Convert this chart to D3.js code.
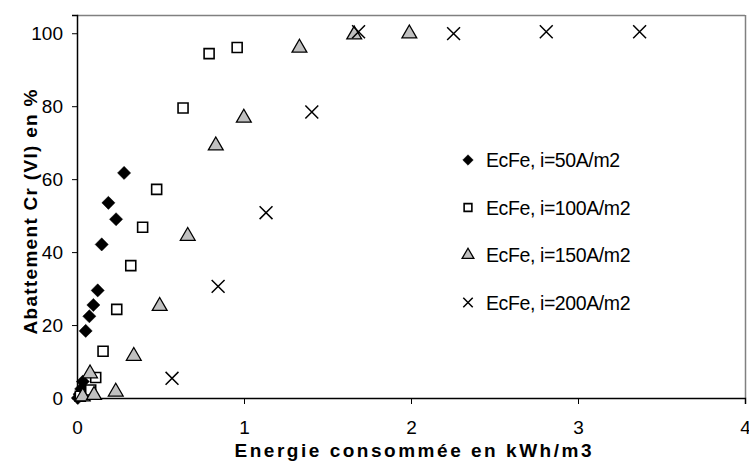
<!DOCTYPE html>
<html><head><meta charset="utf-8">
<script src="https://cdn.jsdelivr.net/npm/d3@7"></script>
<style>body{margin:0;background:#fff}svg{display:block}</style>
</head><body>
<script>
// Data (x: kWh/m3, y: % abattement)
const s50x = [0.005, 0.015, 0.025, 0.035, 0.052, 0.074, 0.098, 0.124, 0.148, 0.188, 0.234, 0.282];
const s50y = [0.0, 1.0, 2.5, 4.5, 18.4, 22.4, 25.5, 29.5, 42.1, 53.5, 49.0, 61.7];
const s100x = [0.02, 0.05, 0.082, 0.112, 0.156, 0.238, 0.322, 0.393, 0.477, 0.635, 0.791, 0.959];
const s100y = [0.5, 1.0, 2.2, 5.6, 12.8, 24.3, 36.3, 46.8, 57.2, 79.5, 94.4, 96.1];
const s150x = [0.034, 0.078, 0.102, 0.232, 0.340, 0.495, 0.663, 0.831, 0.999, 1.332, 1.66, 1.99];
const s150y = [0.0, 6.3, 0.4, 1.3, 11.1, 24.8, 44.0, 68.8, 76.4, 95.6, 99.2, 99.5];
const s200x = [0.569, 0.845, 1.132, 1.406, 1.686, 2.255, 2.810, 3.369];
const s200y = [5.4, 30.6, 50.8, 78.4, 100.4, 99.9, 100.4, 100.4];
const seriesNames = ["EcFe, i=50A/m2", "EcFe, i=100A/m2", "EcFe, i=150A/m2", "EcFe, i=200A/m2"];
const xTicks = [0, 1, 2, 3, 4];
const yTicks = [0, 20, 40, 60, 80, 100];
const xTitle = "Energie consommée en kWh/m3";
const yTitle = "Abattement Cr (VI) en %";

const W = 749, H = 463;
const m = {l: 77, r: 4, t: 15, b: 65};
const svg = d3.select("body").append("svg").attr("width", W).attr("height", H);
const x = d3.scaleLinear().domain([0, 4]).range([m.l, W - m.r]);
const y = d3.scaleLinear().domain([0, 105]).range([H - m.b, m.t]);
const font = "Liberation Sans, Arial, Helvetica, sans-serif";

// frame (top/right grey)
svg.append("line").attr("x1", m.l).attr("x2", W - m.r).attr("y1", m.t + 0.5).attr("y2", m.t + 0.5).attr("stroke", "#808080").attr("stroke-width", 1.5);
svg.append("line").attr("x1", W - m.r + 0.5).attr("x2", W - m.r + 0.5).attr("y1", m.t).attr("y2", H - m.b).attr("stroke", "#808080").attr("stroke-width", 1.5);

const xAxis = svg.append("g").attr("transform", `translate(0,${H - m.b})`)
  .call(d3.axisBottom(x).tickValues(xTicks).tickSize(6).tickPadding(17).tickFormat(d3.format("d")));
const yAxis = svg.append("g").attr("transform", `translate(${m.l},0)`)
  .call(d3.axisLeft(y).tickValues(yTicks).tickSize(5).tickPadding(9).tickFormat(d3.format("d")));
[xAxis, yAxis].forEach(g => {
  g.select(".domain").attr("stroke", "#000").attr("stroke-width", 1.5);
  g.selectAll(".tick line").attr("stroke", "#000").attr("stroke-width", 1);
  g.selectAll("text").attr("font-family", font).attr("font-size", 19).attr("fill", "#000");
});

// symbols
const sym = {
  diamond: d3.symbol().type(d3.symbolDiamond2 || d3.symbolDiamond).size(110),
  square: d3.symbol().type(d3.symbolSquare).size(100),
  triangle: d3.symbol().type(d3.symbolTriangle).size(95),
  cross: d3.symbol().type(d3.symbolTimes || d3.symbolX).size(110)
};
const styles = [
  {p: sym.diamond, fill: "#000", stroke: "#000", sw: 0.5, off: 0},
  {p: sym.square, fill: "#fff", stroke: "#000", sw: 1.6, off: 0},
  {p: sym.triangle, fill: "#c0c0c0", stroke: "#000", sw: 1.3, off: -1.5},
  {p: sym.cross, fill: "none", stroke: "#000", sw: 1.5, off: 0}
];
const data = [[s50x, s50y], [s100x, s100y], [s150x, s150y], [s200x, s200y]];
data.forEach(([xs, ys], k) => {
  const st = styles[k];
  svg.append("g").selectAll("path").data(xs.map((v, i) => [v, ys[i]])).join("path")
    .attr("transform", d => `translate(${x(d[0])},${y(d[1]) + st.off})`)
    .attr("d", st.p).attr("fill", st.fill).attr("stroke", st.stroke).attr("stroke-width", st.sw);
});

// legend
const lg = svg.append("g");
seriesNames.forEach((n, k) => {
  const st = styles[k];
  const cy = 160 + k * 47.5;
  lg.append("path").attr("transform", `translate(468,${cy})`).attr("d", st.p.size(k === 0 ? 70 : 60)())
    .attr("fill", st.fill).attr("stroke", st.stroke).attr("stroke-width", st.sw);
  lg.append("text").attr("x", 486).attr("y", cy + 7).attr("font-family", font).attr("font-size", 19.5)
    .attr("letter-spacing", -0.4).text(n);
});

// titles
svg.append("text").attr("x", 413).attr("y", 457).attr("text-anchor", "middle")
  .attr("font-family", font).attr("font-size", 19).attr("font-weight", "bold")
  .attr("textLength", 357).attr("lengthAdjust", "spacing").text(xTitle);
svg.append("text").attr("transform", "translate(37,212) rotate(-90)").attr("text-anchor", "middle")
  .attr("font-family", font).attr("font-size", 19).attr("font-weight", "bold")
  .attr("textLength", 245).attr("lengthAdjust", "spacing").text(yTitle);
</script>
</body></html>
